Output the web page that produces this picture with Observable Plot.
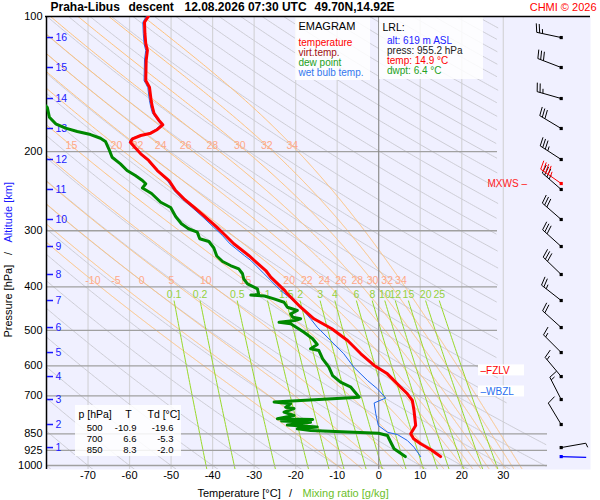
<!DOCTYPE html>
<html><head><meta charset="utf-8">
<script src="https://cdn.jsdelivr.net/npm/d3@7"></script>
<script src="https://cdn.jsdelivr.net/npm/@observablehq/plot@0.6"></script>
<style>
html,body{margin:0;padding:0;background:#fff;}
#chart svg{display:block;}
</style></head>
<body><div id="chart"></div>
<script>
// ---------- data ----------
const pressureTicks = [100, 200, 300, 400, 500, 600, 700, 850, 925, 1000];
const temperatureTicks = [-70, -60, -50, -40, -30, -20, -10, 0, 10, 20, 30];

const tempP = [100,103.0,109.1,114.9,119.0,125.3,138.8,141.0,143.7,153.9,159.2,164.4,170.4,174.3,178.5,181.9,184.1,187.3,190.5,195.3,202.2,209.2,220.3,231.9,244.1,254.7,265.9,279.9,294.6,307.4,320.8,340.6,367.9,380.7,407.7,414.6,444.1,471.3,496.1,526.7,563.9,598.7,624.9,669.3,692.3,716.5,754.3,814.5,850.0,872.0,894.7,921.3,953.5,955.2];
const tempT = [-55.5,-56.4,-56.3,-56.1,-55.7,-56.0,-56.1,-55.7,-55.2,-54.8,-54.5,-54.1,-52.9,-52.0,-53.3,-54.9,-57.3,-59.3,-59.8,-58.8,-57.3,-55.4,-53.3,-50.5,-48.9,-46.9,-44.5,-41.7,-39.0,-36.9,-34.9,-31.3,-27.2,-26.0,-22.6,-22.0,-18.8,-15.6,-11.3,-7.5,-4.3,-1.1,2.1,5.3,6.9,8.1,8.5,8.9,7.7,8.4,10.1,12.5,14.8,14.9];

const wetP = [100,103,109,115,119,125,139,141,144,154,159,164,170,174,178.5,182,184,187,190.5,195,202,209,220,232,244,255,266,280,295,307,321,341,349.4,374.1,407.7,436.4,471.3,492.0,526.7,563.9,604.0,646.7,674.9,707.3,725.7,767.2,814.5,843.1,853.1,879.6,910.5,955.2];
const wetT = [-56.0,-56.8,-56.7,-56.5,-56.1,-56.4,-56.5,-56.1,-55.6,-55.2,-54.9,-54.5,-53.3,-52.4,-53.7,-55.3,-57.6,-59.6,-60.1,-59.1,-57.6,-55.7,-53.6,-50.9,-49.3,-47.3,-45.0,-42.3,-39.7,-37.7,-35.8,-32.3,-30.8,-27.6,-23.6,-19.6,-16.4,-14.8,-11.6,-8.4,-6.0,-2.7,-0.3,1.7,-1.1,-0.7,-0.1,2.1,4.5,6.9,8.5,10.1];

const dewP = [157.0,159.5,167.6,173.4,177.3,180.4,183.2,186.7,189.8,197.1,205.8,212.9,220.3,226.0,231.9,235.8,241.0,247.9,259.2,266.3,278.9,289.5,297.0,302.2,312.6,317.0,327.8,341.5,351.3,358.6,364.7,374.1,384.3,393.9,404.2,416.1,417.2,419.4,425.4,432.9,444.1,451.7,459.4,467.5,471.3,475.5,479.6,483.6,496.1,504.8,522.2,537.7,549.7,554.5,578.6,604.0,630.4,652.4,669.3,704.4,722.1,728.8,741.6,746.6,760.8,773.8,787.0,789.9,796.0,800.9,812.4,820.8,828.4,835.6,847.5,857.4,887.4,917.9,955.2];
const dewT = [-80.5,-79.8,-79.3,-77.8,-75.4,-72.6,-69.4,-67.0,-65.8,-65.0,-64.2,-62.2,-60.6,-58.6,-56.9,-56.1,-56.9,-54.7,-52.5,-50.1,-48.9,-47.5,-45.8,-43.7,-43.1,-40.9,-39.7,-39.0,-37.6,-35.7,-33.7,-32.8,-32.5,-31.6,-29.2,-28.9,-30.8,-27.5,-25.2,-22.8,-22.0,-19.6,-21.2,-20.7,-18.8,-20.2,-24.0,-21.2,-19.3,-18.0,-15.9,-14.8,-16.4,-14.4,-13.5,-12.0,-11.1,-9.2,-6.7,-4.7,-25.2,-21.2,-22.4,-20.4,-22.8,-20.4,-24.4,-15.9,-23.4,-16.4,-22.0,-14.8,-19.6,-16.4,0.0,2.1,2.9,3.7,6.4];

// altitude (km) marks on the pressure axis
const altKm = [1,2,3,4,5,6,7,8,9,10,11,12,13,14,15,16];
const altP  = [912.1,810.4,712.9,633.7,560.3,492.9,429.1,375.5,325.3,283.2,242.8,208.2,177.6,152.3,129.9,111.4];

// winds at each km (direction deg, speed kt)
const windDir = [80,329,333,320,315,312,308,314,312,311,311,303,301,286,291,282];
const windSpd = [5,10,15,15,15,20,25,30,30,30,35,35,30,25,30,25];
const mxwsP = 235.5, mxwsDir = 305, mxwsSpd = 45;
const sfcDir = 92, sfcSpd = 2;

// levels
const fzlvP = 614, wbzlP = 684;

// launch/lowest level
const lrlAlt = 619, lrlPress = 955.2, lrlTemp = 14.9, lrlDwpt = 6.4;

// table
const tableP = [500, 700, 850];
const tableT = [-10.9, 6.6, 8.3];
const tableTd = [-19.6, -5.3, -2.0];

// reference-line label values
const moistThetaW = [-10,-5,0,5,10,15,20,22,24,26,28,30,32,34];
const mixRatios = [0.1,0.2,0.5,1,1.5,2,3,4,6,8,10,12,15,20,25];
const mixLabels = ["0.1","0.2","0.5","1","1.5","2","3","4","6","8","10","12","15","20","25"];

// ---------- scales ----------
const PB = 1020.7;
const X = Plot.scale({x: {domain: [-80, 51], range: [46, 590]}});
const Y = Plot.scale({y: {type: "log", domain: [PB, 100], range: [469, 16]}});
const px = v => X.invert(v), py = v => Y.invert(v);

// ---------- thermodynamic reference lines ----------
function es(Tc){ return 6.112*Math.exp(17.67*Tc/(Tc+243.5)); }
function rsat(Tc,p){ const e = es(Tc); return 0.622*e/(p-e); }
function dTdp(Tc,p){
  const T = Tc+273.15, r = rsat(Tc,p), Lv = 2.501e6, Rd = 287.04, cp = 1005.7, eps = 0.622;
  return (Rd*T + Lv*r)/(p*(cp + Lv*Lv*r*eps/(Rd*T*T)));
}
function tmax(p){
  if (p <= 700) return 28.7;
  if (p >= 850) return 40.7;
  const f = (Math.log(p)-Math.log(700))/(Math.log(850)-Math.log(700));
  return 28.7 + f*12;
}
const pGrid = d3.range(0, 401).map(i => PB*Math.pow(100/PB, i/400));

const dryLines = [];
d3.range(-80, 330, 10).forEach(th => {
  const thK = th + 273.15;
  pGrid.forEach(p => {
    const T = thK*Math.pow(p/1000, 0.2857) - 273.15;
    if (T <= tmax(p) && T > -95) dryLines.push({id: th, p, T});
  });
});

const moistLines = [];
const moistLabelPts = [];
function moistAt(thw){
  const pts = [];
  let T = thw, p = 1000;
  const down = [];
  while (p < PB) { const k1 = dTdp(T,p); const k2 = dTdp(T+k1*0.5,p+0.5); T += k2*1; p += 1; down.push({p: Math.min(p,PB), T}); }
  down.reverse().forEach(d => pts.push(d));
  T = thw; p = 1000; pts.push({p, T});
  while (p > 100) {
    const h = -1;
    const k1 = dTdp(T,p); const k2 = dTdp(T+k1*h/2,p+h/2); const k3 = dTdp(T+k2*h/2,p+h/2); const k4 = dTdp(T+k3*h,p+h);
    T += h*(k1+2*k2+2*k3+k4)/6; p += h;
    pts.push({p, T});
  }
  return pts;
}
moistThetaW.forEach(thw => {
  const pts = moistAt(thw);
  pts.forEach(d => { if (d.T <= tmax(d.p) && d.T > -95) moistLines.push({id: thw, p: d.p, T: d.T}); });
  [387.5, 193.9].forEach(pl => {
    let best = pts[0];
    pts.forEach(d => { if (Math.abs(d.p-pl) < Math.abs(best.p-pl)) best = d; });
    if (best.T > -79 && best.T < 28) moistLabelPts.push({p: best.p, T: best.T, t: String(thw)});
  });
});

function tdFromW(w, p){
  const e = w*p/(622+w);
  const l = Math.log(e/6.112);
  return 243.5*l/(17.67-l);
}
const mrTop = 430;
const mixLines = [];
const mixLabelPts = [];
mixRatios.forEach((w, i) => {
  d3.range(0, 61).forEach(j => {
    const p = mrTop*Math.pow(PB/mrTop, j/60);
    mixLines.push({id: w, p, T: tdFromW(w, p)});
  });
  mixLabelPts.push({T: tdFromW(w, mrTop), p: py(294), t: mixLabels[i]});
});

// ---------- profiles ----------
const temp = tempP.map((p,i) => ({p, T: tempT[i]}));
const wet  = wetP.map((p,i) => ({p, T: wetT[i]}));
const dew  = dewP.map((p,i) => ({p, T: dewT[i]}));

// ---------- wind barbs ----------
const barbSegs = [], barbDots = [];
function addBarb(p, dir, spd, color){
  const bx = 560.7, by = Y.apply(p);
  const r = dir*Math.PI/180;
  const u = [Math.sin(r), -Math.cos(r)];
  const perp = [-u[1], u[0]];
  const lean = 15*Math.PI/180;
  const f = [perp[0]*Math.cos(lean)+u[0]*Math.sin(lean), perp[1]*Math.cos(lean)+u[1]*Math.sin(lean)];
  const L = 25;
  const seg = (x1,y1,x2,y2) => barbSegs.push({x1: px(x1), y1: py(y1), x2: px(x2), y2: py(y2), c: color});
  seg(bx, by, bx+L*u[0], by+L*u[1]);
  const n10 = Math.floor(spd/10), n5 = (spd % 10) >= 5 ? 1 : 0;
  let d = L;
  for (let i = 0; i < n10; i++) {
    const sx = bx+d*u[0], sy = by+d*u[1];
    seg(sx, sy, sx+9*f[0], sy+9*f[1]); d -= 3;
  }
  if (n5) { const sx = bx+d*u[0], sy = by+d*u[1]; seg(sx, sy, sx+4.5*f[0], sy+4.5*f[1]); }
  barbDots.push({x: px(bx), y: py(by), c: color});
}
altP.forEach((p,i) => addBarb(p, windDir[i], windSpd[i], "black"));
addBarb(mxwsP, mxwsDir, mxwsSpd, "#ff0000");
addBarb(lrlPress, sfcDir, sfcSpd, "#0000ff");

// ---------- text helpers ----------
const F = "'Liberation Sans', Arial, Helvetica, sans-serif";
function txt(str, x, y, o = {}) {
  return Plot.text([{x: px(x), y: py(y), t: str}], Object.assign({x: "x", y: "y", text: "t", fontFamily: F, fontSize: 11, fill: "black", textAnchor: "start"}, o));
}
function box(x1, x2, y1, y2, o = {}) {
  return Plot.rect([{}], Object.assign({x1: px(x1), x2: px(x2), y1: py(y1), y2: py(y2), fill: "white", fillOpacity: 0.85}, o));
}

const isoLight = temperatureTicks.filter(t => t !== 0);
const rowY = [427, 438, 449];

const chart = Plot.plot({
  width: 600, height: 500,
  marginLeft: 46, marginRight: 10, marginTop: 16, marginBottom: 31,
  x: {domain: [-80, 51], axis: null},
  y: {type: "log", domain: [PB, 100], axis: null},
  style: {fontFamily: F, fontSize: "11px", background: "white", overflow: "visible"},
  marks: [
    Plot.frame({fill: "#f0f0ff", stroke: null}),
    Plot.ruleX(isoLight, {stroke: "#d4d4d8", strokeWidth: 1.2}),
    Plot.line(dryLines, {x: "T", y: "p", z: "id", stroke: "#cdcdd5", strokeWidth: 1, clip: true}),
    Plot.line(moistLines, {x: "T", y: "p", z: "id", stroke: "#ffc27a", strokeWidth: 1, clip: true}),
    Plot.line(mixLines, {x: "T", y: "p", z: "id", stroke: "#99d92a", strokeWidth: 1, clip: true}),
    Plot.ruleY(pressureTicks.filter(p => p > 100 && p < 800), {x1: -80, x2: px(497), stroke: "#a0a0a0", strokeWidth: 1.3}),
    Plot.ruleY(pressureTicks.filter(p => p > 800), {x1: -80, x2: px(547), stroke: "#a0a0a0", strokeWidth: 1.3}),
    Plot.ruleX([0], {stroke: "#8c8c8c", strokeWidth: 1.2}),
    // legend boxes
    box(295, 370, 16, 80),
    box(379, 483, 16, 79),
    box(75, 181, 405, 456),
    box(478, 524, Y.apply(fzlvP)-5.5, Y.apply(fzlvP)+5.5, {fillOpacity: 1}),
    box(478, 524, Y.apply(wbzlP)-5.5, Y.apply(wbzlP)+5.5, {fillOpacity: 1}),
    // labels of reference lines
    Plot.text(moistLabelPts, {x: "T", y: "p", text: "t", fill: "#ffa888", fontSize: 10.5, fontFamily: F}),
    Plot.text(mixLabelPts, {x: "T", y: "p", text: "t", fill: "#95d040", fontSize: 10.5, fontFamily: F}),
    // axis lines
    Plot.ruleX([-80], {stroke: "black", strokeWidth: 1.5}),
    Plot.ruleY([100], {x1: px(45), x2: px(590), stroke: "black", strokeWidth: 1.3}),
    // altitude km marks
    Plot.ruleY(altP, {x1: px(47), x2: px(53), stroke: "#1a1aff", strokeWidth: 1.5}),
    Plot.text(altP, {x: px(55), y: d => d, text: (d, i) => String(altKm[i]), fill: "#1a1aff", fontSize: 10.5, textAnchor: "start", fontFamily: F}),
    // profiles
    Plot.line(wet, {x: "T", y: "p", stroke: "#1f66ee", strokeWidth: 1, clip: true}),
    Plot.line(dew, {x: "T", y: "p", stroke: "#008800", strokeWidth: 3, clip: true}),
    Plot.line(temp, {x: "T", y: "p", stroke: "#ff0000", strokeWidth: 3, clip: true}),
    // wind barbs
    Plot.link(barbSegs.filter(d => d.c === "black"), {x1: "x1", y1: "y1", x2: "x2", y2: "y2", stroke: "black", strokeWidth: 1}),
    Plot.link(barbSegs.filter(d => d.c === "#ff0000"), {x1: "x1", y1: "y1", x2: "x2", y2: "y2", stroke: "#ff0000", strokeWidth: 1}),
    Plot.link(barbSegs.filter(d => d.c === "#0000ff"), {x1: "x1", y1: "y1", x2: "x2", y2: "y2", stroke: "#0000ff", strokeWidth: 1.3}),
    Plot.dot(barbDots.filter(d => d.c === "black"), {x: "x", y: "y", symbol: "square", r: 1.8, fill: "black"}),
    Plot.dot(barbDots.filter(d => d.c === "#ff0000"), {x: "x", y: "y", symbol: "square", r: 1.8, fill: "#ff0000"}),
    Plot.dot(barbDots.filter(d => d.c === "#0000ff"), {x: "x", y: "y", symbol: "square", r: 1.8, fill: "#0000ff"}),
    // axis tick labels
    Plot.text(pressureTicks, {y: d => d, frameAnchor: "left", dx: -4, textAnchor: "end", text: d => String(d), fontSize: 11, fill: "black", fontFamily: F}),
    Plot.text(temperatureTicks, {x: d => d, frameAnchor: "bottom", dy: 9, text: d => String(d), fontSize: 11, fill: "black", fontFamily: F}),
    // title
    txt("Praha-Libus", 50, 7, {fontWeight: "bold", fontSize: 12}),
    txt("descent", 128, 7, {fontWeight: "bold", fontSize: 12}),
    txt("12.08.2026 07:30 UTC", 184, 7, {fontWeight: "bold", fontSize: 12}),
    txt("49.70N,14.92E", 314, 7, {fontWeight: "bold", fontSize: 12}),
    txt("CHMI © 2026", 596, 7, {fill: "#ff0000", textAnchor: "end"}),
    // legend
    txt("EMAGRAM", 298, 26, {fontSize: 11}),
    txt("temperature", 298, 42, {fontSize: 10, fill: "#ff0000"}),
    txt("virt.temp.", 298, 52, {fontSize: 10, fill: "#a01010"}),
    txt("dew point", 298, 62, {fontSize: 10, fill: "#22a022"}),
    txt("wet bulb temp.", 298, 72, {fontSize: 10, fill: "#3377ee"}),
    txt("LRL:", 382, 27, {fontSize: 10.5}),
    txt(`alt: ${lrlAlt} m ASL`, 386.5, 40, {fontSize: 10, fill: "#2222ff"}),
    txt(`press: ${lrlPress.toFixed(1)} hPa`, 386.5, 50, {fontSize: 10, fill: "#222"}),
    txt(`temp: ${lrlTemp.toFixed(1)} °C`, 386.5, 60, {fontSize: 10, fill: "#ff0000"}),
    txt(`dwpt: ${lrlDwpt.toFixed(1)} °C`, 386.5, 70, {fontSize: 10, fill: "#22a022"}),
    // levels
    txt("MXWS –", 487, Y.apply(mxwsP), {fontSize: 10, fill: "#ff2020"}),
    txt("–FZLV", 480, Y.apply(fzlvP), {fontSize: 10, fill: "#ff0000"}),
    txt("–WBZL", 480, Y.apply(wbzlP), {fontSize: 10, fill: "#2a6ef0"}),
    // table
    txt("p [hPa]", 78, 414, {fontSize: 10.5}),
    txt("T", 128, 414, {fontSize: 10.5, textAnchor: "middle"}),
    txt("Td [°C]", 147, 414, {fontSize: 10.5}),
    ...tableP.map((p, i) => txt(String(p), 102, rowY[i], {fontSize: 9.5, textAnchor: "end"})),
    ...tableT.map((t, i) => txt(t.toFixed(1), 136, rowY[i], {fontSize: 9.5, textAnchor: "end"})),
    ...tableTd.map((t, i) => txt(t.toFixed(1), 173, rowY[i], {fontSize: 9.5, textAnchor: "end"})),
    // axis titles
    txt("Temperature [°C]", 197, 493),
    txt("/", 290, 493, {textAnchor: "middle"}),
    txt("Mixing ratio [g/kg]", 302, 493, {fill: "#6cc02a"}),
    txt("Pressure [hPa]", 8, 337, {rotate: -90}),
    txt("/", 8, 253, {rotate: -90, textAnchor: "middle"}),
    txt("Altitude [km]", 8, 242, {rotate: -90, fill: "#1a1aff"})
  ]
});
document.getElementById("chart").appendChild(chart);
</script>
</body></html>
